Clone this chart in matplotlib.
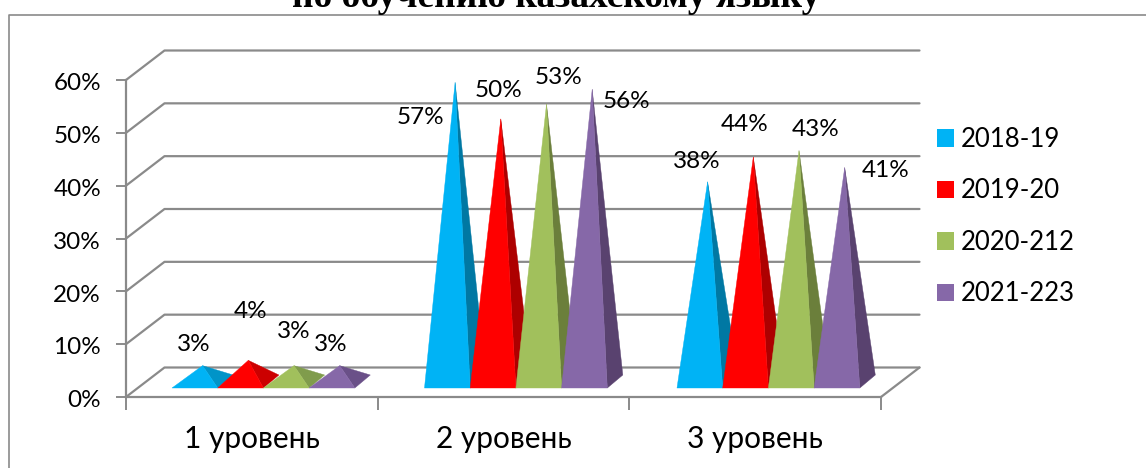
import matplotlib
matplotlib.use("Agg")
import matplotlib.pyplot as plt
from matplotlib.patches import Patch, Polygon
from matplotlib.lines import Line2D
from matplotlib.transforms import ScaledTranslation

categories = ["1 уровень", "2 уровень", "3 уровень"]
series_names = ["2018-19", "2019-20", "2020-212", "2021-223"]
heights_2018 = [0.03, 0.566, 0.378]
heights_2019 = [0.04, 0.497, 0.425]
heights_2020 = [0.03, 0.525, 0.437]
heights_2021 = [0.03, 0.553, 0.405]
labels_2018 = ["3%", "57%", "38%"]
labels_2019 = ["4%", "50%", "44%"]
labels_2020 = ["3%", "53%", "43%"]
labels_2021 = ["3%", "56%", "41%"]
y_ticks = [0, 0.1, 0.2, 0.3, 0.4, 0.5, 0.6]
y_tick_labels = ["0%", "10%", "20%", "30%", "40%", "50%", "60%"]

front_colors = ["#00B3F5", "#FF0000", "#A1C05C", "#8668A8"]
side_tall = ["#0078A3", "#AD0000", "#6B7F3B", "#59426F"]
side_short = ["#0094C8", "#CC0000", "#809C4C", "#6A5088"]

W, H = 1146, 468
FONT = ["Lato", "Noto Sans", "DejaVu Sans"]
plt.rcParams["font.family"] = FONT
GRAY = "#8A8A8A"

def px(x0, y_top, x1, y_bot):
    return [x0 / W, 1 - y_bot / H, (x1 - x0) / W, (y_bot - y_top) / H]

fig = plt.figure(figsize=(W / 100, H / 100), dpi=100, facecolor="white")
ax = fig.add_axes(px(126, 80, 881, 397))
ax.set_xlim(0, 3)
ax.set_ylim(0, 0.6)
ax.patch.set_alpha(0)

X_PER_PX = 3 / 755
Y_PER_PX = 0.6 / 317
wall_dx, wall_dy = 38.5 * X_PER_PX, 29.5 * Y_PER_PX
bar_w = 45.7 * X_PER_PX
bar_dx, bar_dy = 15.5 * X_PER_PX, 13 * Y_PER_PX
base_y = 9 * Y_PER_PX
group_inset = 46 * X_PER_PX
group_pitch = 252.5 * X_PER_PX

# chart frame (open at the right and bottom edges of the crop)
fig.add_artist(Line2D([8.5 / W, 8.5 / W, 1], [0, 1 - 14.5 / H, 1 - 14.5 / H],
                      color=GRAY, lw=1.2))

# walls and gridlines
line_kw = dict(color=GRAY, lw=1.6, clip_on=False, solid_capstyle="round", zorder=1)
for v in y_ticks:
    ax.plot([0, wall_dx, 3 + wall_dx], [v, v + wall_dy, v + wall_dy], **line_kw)
ax.plot([3, 3 + wall_dx], [0, wall_dy], **line_kw)

# pyramids
all_heights = [heights_2018, heights_2019, heights_2020, heights_2021]
all_labels = [labels_2018, labels_2019, labels_2020, labels_2021]
for s, (vals, front, st, ss) in enumerate(zip(all_heights, front_colors, side_tall, side_short)):
    for c, v in enumerate(vals):
        left = c * group_pitch + group_inset + s * bar_w
        right = left + bar_w
        apex = (left + bar_w / 2 + bar_dx / 2, base_y + bar_dy / 2 + v)
        side = st if v > 0.1 else ss
        z = 3 + s
        ax.add_patch(Polygon([(right, base_y), (right + bar_dx, base_y + bar_dy), apex],
                             closed=True, fc=side, ec=side, lw=0.3, clip_on=False, zorder=z))
        ax.add_patch(Polygon([(left, base_y), (right, base_y), apex],
                             closed=True, fc=front, ec=front, lw=0.3, clip_on=False, zorder=z))

# data labels: offsets from the pyramid apex, in pixels (right, down)
label_offsets = [
    [(-9, -21), (-35, 35), (-11, -20)],
    [(2, -49), (-2, -28), (-9, -32)],
    [(0, -34), (12, -27), (17, -21)],
    [(-9, -21), (34, 12), (41, 3)],
]
for s, (vals, labs) in enumerate(zip(all_heights, all_labels)):
    for c, (v, lab) in enumerate(zip(vals, labs)):
        left = c * group_pitch + group_inset + s * bar_w
        ax_x = left + bar_w / 2 + bar_dx / 2
        ax_y = base_y + bar_dy / 2 + v
        dx, dy = label_offsets[s][c]
        ax.annotate(lab, (ax_x, ax_y), xytext=(dx * 0.72, -dy * 0.72), textcoords="offset points",
                    ha="center", va="center", fontsize=17.5, color="black",
                    annotation_clip=False, zorder=10)

# axes
for name in ("top", "right"):
    ax.spines[name].set_visible(False)
for name in ("left", "bottom"):
    ax.spines[name].set_color(GRAY)
    ax.spines[name].set_linewidth(1.6)
ax.set_yticks(y_ticks)
ax.set_yticklabels(y_tick_labels, fontsize=17.5)
ax.set_xticks([0, 1, 2, 3])
ax.set_xticklabels([])
ax.set_xticks([0.5, 1.5, 2.5], minor=True)
ax.set_xticklabels(categories, minor=True, fontsize=21.5)
ax.tick_params(axis="y", length=7, width=1.4, color=GRAY, pad=11)
ax.tick_params(axis="x", which="major", length=9, width=1.4, color=GRAY)
ax.tick_params(axis="x", which="minor", length=0, pad=20.5)
shift = ScaledTranslation(0, -1.2 / 72, fig.dpi_scale_trans)
for lab in ax.get_yticklabels():
    lab.set_transform(lab.get_transform() + shift)

# legend
handles = [Patch(fc=c, ec=c, lw=0) for c in front_colors]
fig.legend(handles, series_names, loc="upper left", bbox_to_anchor=(937 / W, 1 - 127 / H),
           bbox_transform=fig.transFigure, frameon=False, fontsize=18.5,
           handlelength=0.66, handleheight=0.66, handletextpad=0.26,
           labelspacing=1.03, borderpad=0, borderaxespad=0)

# title (cut off by the top of the picture, as in the reference)
fig.text(556.5 / W, 1 - 7 / H, "по обучению казахскому языку", family="Liberation Serif",
         weight="bold", fontsize=27, ha="center", va="baseline", color="black")

fig.savefig("out.png", dpi=100, facecolor="white")
